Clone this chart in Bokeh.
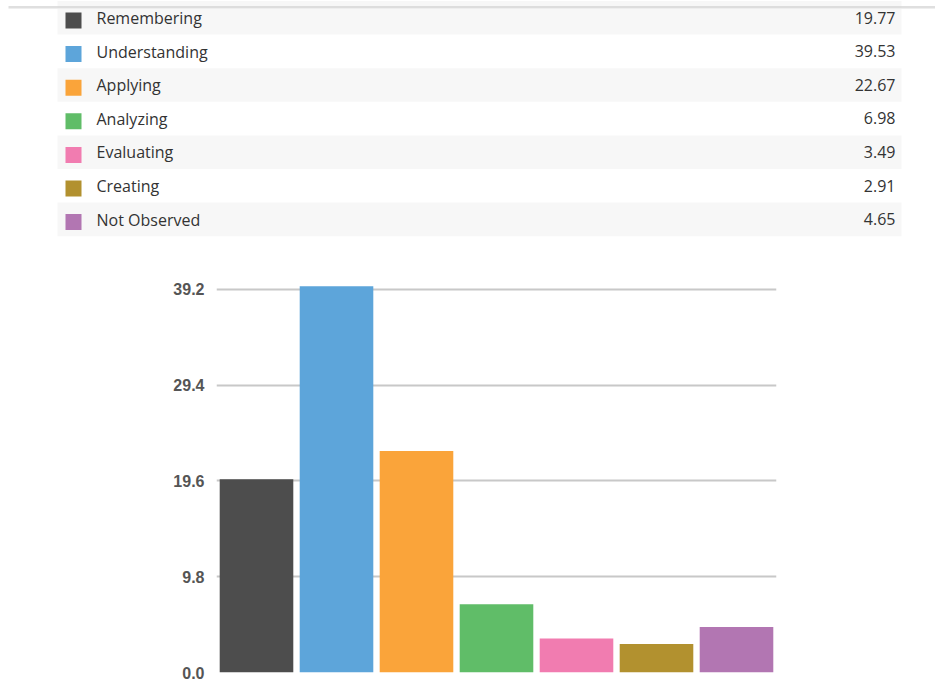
from bokeh.plotting import figure
from bokeh.layouts import column, row
from bokeh.models import Range1d, FactorRange, FixedTicker, PrintfTickFormatter
from bokeh.core.properties import value
from bokeh.embed import file_html
from bokeh.resources import INLINE

categories = ["Remembering", "Understanding", "Applying", "Analyzing", "Evaluating", "Creating", "Not Observed"]
values = [19.77, 39.53, 22.67, 6.98, 3.49, 2.91, 4.65]
colors = ["#4d4d4d", "#5da5da", "#faa43a", "#60bd68", "#f17cb0", "#b2912f", "#b276b2"]
value_labels = ["19.77", "39.53", "22.67", "6.98", "3.49", "2.91", "4.65"]
y_ticks = [0.0, 9.8, 19.6, 29.4, 39.2]

W = 935
H1 = 252
H2 = 430
H3 = 2
ROW = 33.6

# ---------- table (legend) ----------
t = figure(width=W, height=H1, x_range=Range1d(0, W), y_range=Range1d(H1, 0),
           output_backend="svg", toolbar_location=None, min_border=0,
           x_axis_location=None, y_axis_location=None, outline_line_color=None)
t.xgrid.visible = False
t.ygrid.visible = False

n = len(categories)
idx = list(range(n))
g_idx = [i for i in idx if i % 2 == 0]
t.quad(left=57, right=901, top=[i * ROW + 0.5 for i in g_idx], bottom=[i * ROW + 0.5 + ROW for i in g_idx],
       fill_color="#f7f7f7", line_color=None)
t.rect(x=73, y=[20 + i * ROW for i in idx], width=16, height=16, fill_color=colors, line_color=None)
t.text(x=96, y=[17.5 + i * ROW for i in idx], text=categories, text_font=value("Open Sans"),
       text_font_size="16px", text_color="#333333", text_baseline="alphabetic", text_align="left")
t.text(x=895, y=[17 + i * ROW for i in idx], text=value_labels, text_font=value("Open Sans"),
       text_font_size="16px", text_color="#333333", text_baseline="alphabetic", text_align="right")
# top shadow line
t.segment(x0=8, x1=W, y0=6.5, y1=6.5, line_color="#d4d4d4", line_width=1.5)
t.segment(x0=8, x1=W, y0=8, y1=8, line_color="#eeeeee", line_width=1.2)

# ---------- bar chart ----------
p = figure(width=W, height=H2, x_range=FactorRange(*categories, range_padding=0),
           y_range=Range1d(0, 40.53), output_backend="svg", toolbar_location=None,
           x_axis_location=None, min_border_left=216, min_border_right=159,
           min_border_top=24, min_border_bottom=10, outline_line_color=None)
p.vbar(x=categories, top=values, width=0.92, fill_color=colors, line_color=None)
p.xgrid.visible = False
p.ygrid.ticker = FixedTicker(ticks=y_ticks)
p.ygrid.grid_line_color = "#c8c8c8"
p.ygrid.grid_line_width = 2
p.yaxis.ticker = FixedTicker(ticks=y_ticks)
p.yaxis.formatter = PrintfTickFormatter(format="%.1f")
p.yaxis.axis_line_color = None
p.yaxis.major_tick_line_color = None
p.yaxis.minor_tick_line_color = None
p.yaxis.major_tick_out = 0
p.yaxis.major_tick_in = 0
p.yaxis.major_label_standoff = 12
p.yaxis.major_label_text_font = "Liberation Sans"
p.yaxis.major_label_text_font_size = "16px"
p.yaxis.major_label_text_font_style = "bold"
p.yaxis.major_label_text_color = "#555555"

# ---------- bottom rule ----------
b = figure(width=W, height=H3, x_range=Range1d(0, 1), y_range=Range1d(0, 1),
           output_backend="svg", toolbar_location=None, min_border=0,
           x_axis_location=None, y_axis_location=None, outline_line_color=None,
           background_fill_color="#9a9a9a", border_fill_color="#9a9a9a")
b.xgrid.visible = False
b.ygrid.visible = False
b.quad(left=0, right=1, bottom=0, top=1, fill_color="#9a9a9a", line_color=None)

layout = column(row(t), row(p), row(b), spacing=0)
open("out.html", "w").write(file_html(layout, INLINE))
